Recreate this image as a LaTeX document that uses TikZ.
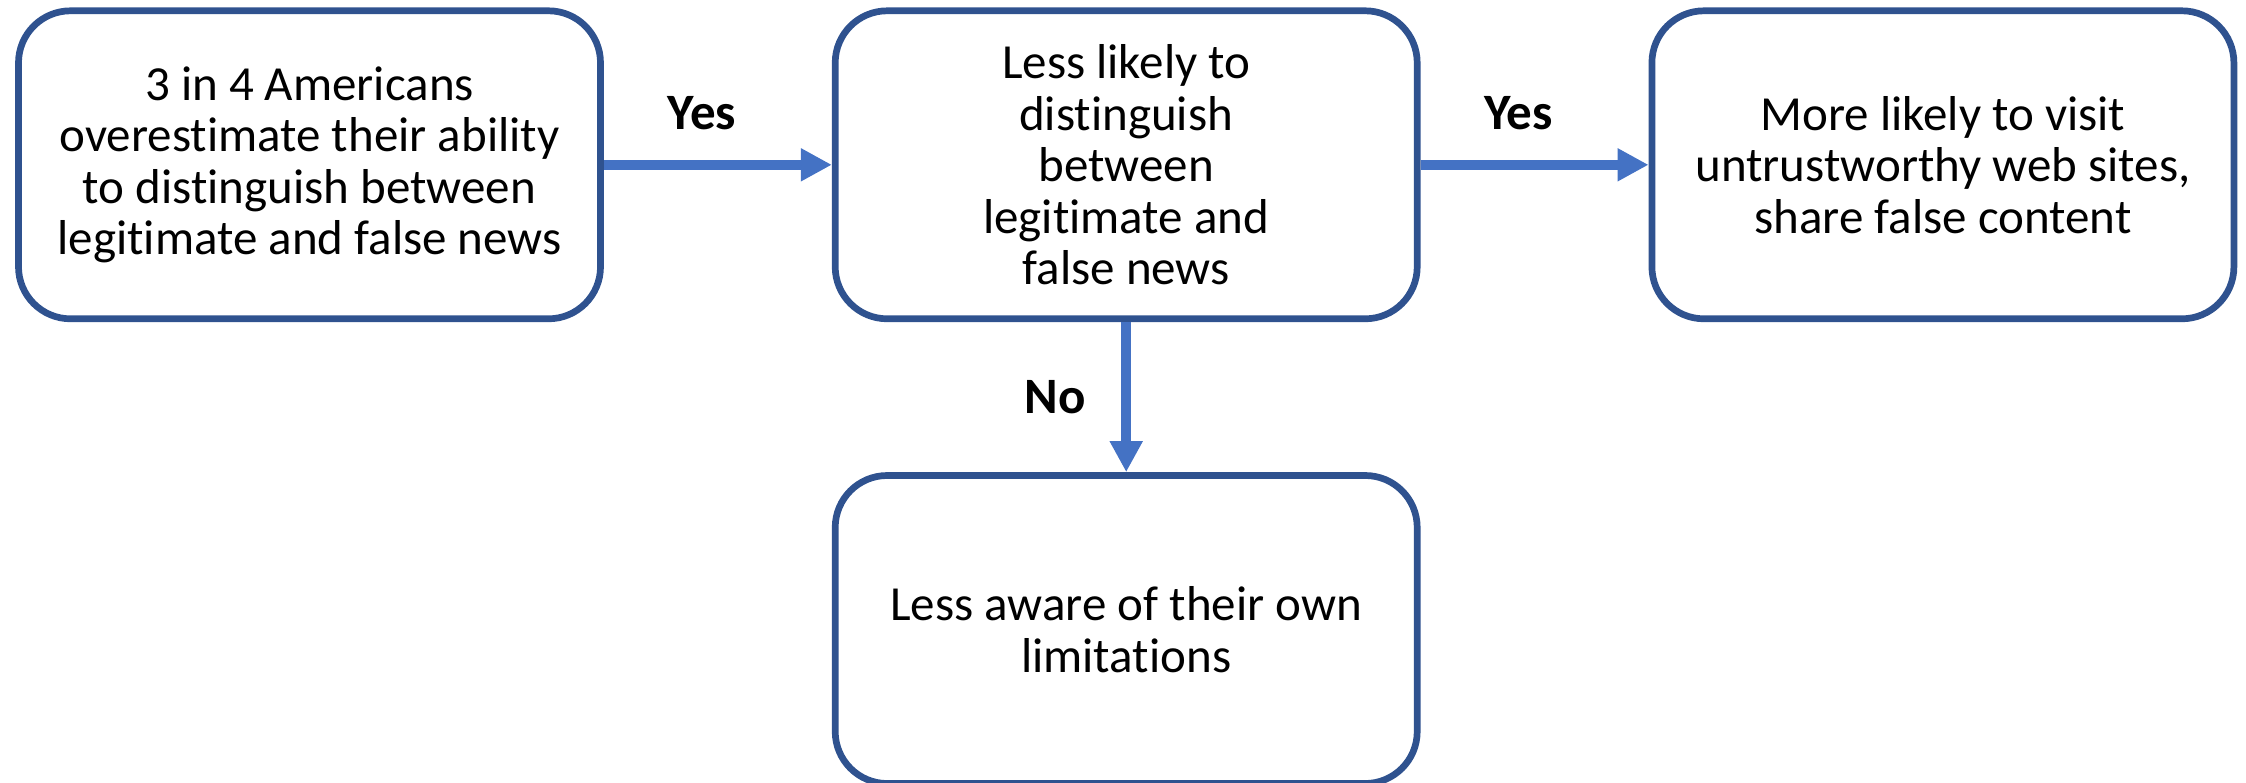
\documentclass[tikz,border=0pt]{standalone}
\usepackage{fontspec}
\setmainfont{Carlito}[Ligatures=NoCommon]
\usetikzlibrary{positioning}
\usetikzlibrary{arrows.meta}
\definecolor{boxblue}{HTML}{2F528F}
\definecolor{arrowblue}{HTML}{4472C4}

\begin{document}
\begin{tikzpicture}[
  box/.style = {draw=boxblue,line width=3.35pt,rounded corners=26pt,fill=white,
    minimum width=291pt,minimum height=154pt,inner sep=0pt,align=center,
    font=\fontsize{24.5pt}{25.8pt}\selectfont},
  link/.style = {arrowblue,line width=5pt},
  lbl/.style = {text=black,font=\fontsize{25.5pt}{26pt}\selectfont\bfseries},
  >={Triangle[length=15.5pt,width=15.5pt]},
  node distance = 114pt
]

  \useasboundingbox (0,0) rectangle (1123pt,-391pt);

  \node[box] (claim) at (154.75pt,-82.4pt)
    {3 in 4 Americans\\overestimate their ability\\to distinguish between\\legitimate and false news};
  \node[box,right=of claim] (less)
    {Less likely to\\distinguish\\between\\legitimate and\\false news};
  \node[box,right=of less] (visit)
    {More likely to visit\\untrustworthy web sites,\\share false content};
  \node[box,below=75pt of less] (aware)
    {Less aware of their own\\limitations};

  \draw[link,->] (claim) -- node[lbl,above=11.7pt,pos=0.43] (yesa) {Yes} (less);
  \draw[link,->] (less) -- node[lbl,above=11.7pt,pos=0.43] (yesb) {Yes} (visit);
  \draw[link,->] (less) -- node[lbl,left=14.3pt] (no) {No} (aware);

\end{tikzpicture}
\end{document}
